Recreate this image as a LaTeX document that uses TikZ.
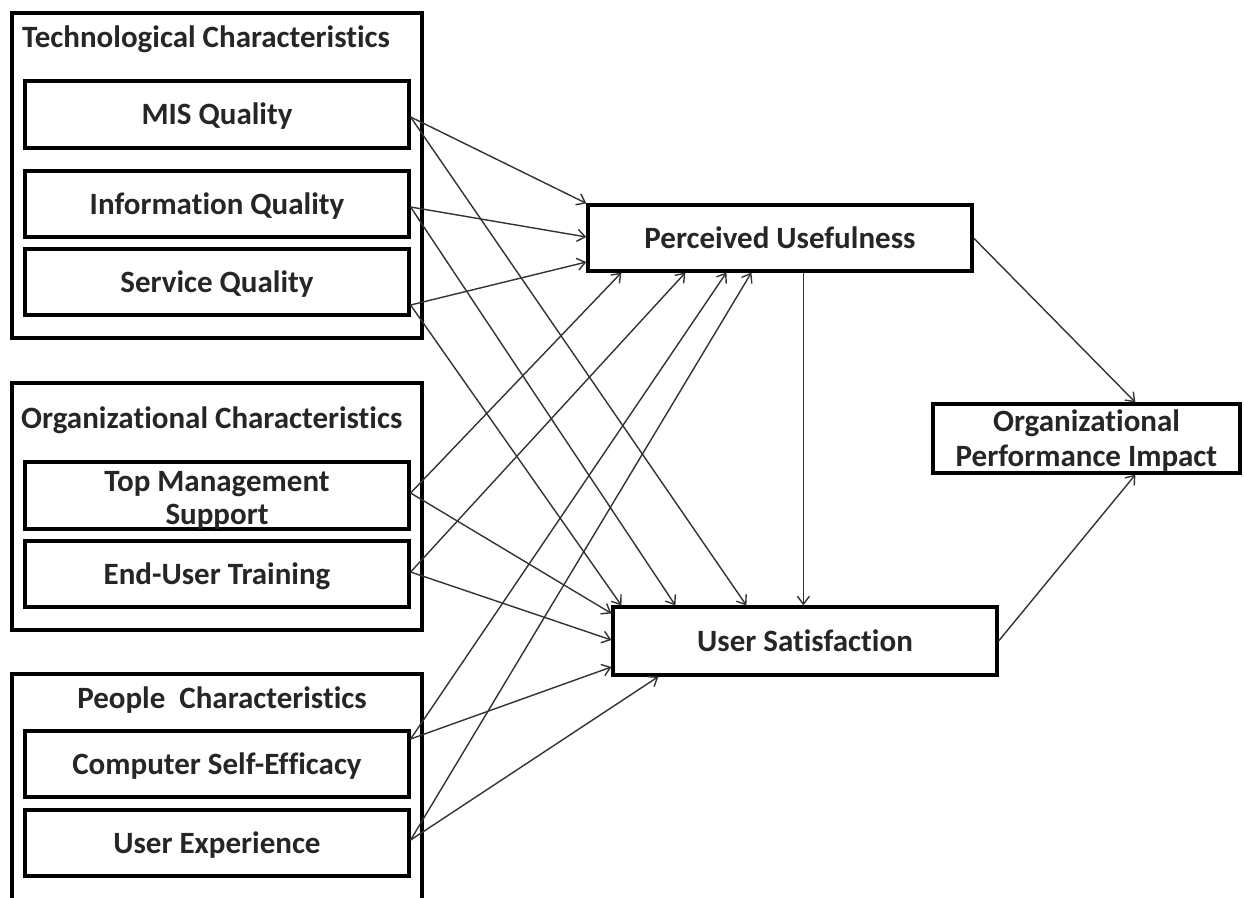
\documentclass[tikz,border=0pt]{standalone}
\usepackage{fontspec}
\setmainfont{Carlito}[RawFeature={-liga}]
\usetikzlibrary{arrows.meta,calc}
\begin{document}
\begin{tikzpicture}[x=1pt,y=-1pt,
  every node/.style={font=\fontsize{31}{33}\selectfont\bfseries, text=black!85},
  outerbox/.style={draw, line width=3.2pt, inner sep=0pt, minimum width=410pt},
  innerbox/.style={draw, line width=3.2pt, inner sep=0pt, minimum width=384pt, minimum height=66pt, align=center},
  mainbox/.style={draw, line width=3.2pt, inner sep=0pt, align=center},
  oneline/.style={text height=23pt, text depth=3pt},
  conn/.style={line width=1.4pt, draw=black!80, -{Straight Barb[length=8pt,width=12pt]}},
]
\useasboundingbox (0,0) rectangle (1244,897);
\clip (0,0) rectangle (1244,897);
\fill[white] (0,0) rectangle (1244,897);

% groups
\node[outerbox, minimum height=325pt] (tech) at (217,175.5) {};
\node[anchor=west, inner sep=0pt] (techt) at (22,39) {Technological Characteristics};
\node[outerbox, minimum height=247pt] (org) at (217,506.5) {};
\node[anchor=west, inner sep=0pt] (orgt) at (21,420) {Organizational Characteristics};
\node[outerbox, minimum height=250pt] (ppl) at (217,799) {};
\node[inner sep=0pt] (pplt) at (222,700) {People\ \ Characteristics};

% inner boxes
\node[innerbox, oneline, minimum height=67pt] (mis) at (217,114.5) {MIS Quality};
\node[innerbox, oneline] (info) at (217,204) {Information Quality};
\node[innerbox, oneline] (svc) at (217,282) {Service Quality};
\node[innerbox, minimum height=67pt, text height=45.5pt, text depth=20.5pt] (tm) at (217,495.5) {\begin{tabular}{@{}c@{}}Top Management\\Support\end{tabular}};
\node[innerbox, oneline] (eu) at (217,574) {End-User Training};
\node[innerbox, oneline] (cse) at (217,764) {Computer Self-Efficacy};
\node[innerbox, oneline] (ue) at (217,843) {User Experience};

% main boxes
\node[mainbox, oneline, minimum width=384pt, minimum height=66pt] (pu) at (780,238) {Perceived Usefulness};
\node[mainbox, oneline, minimum width=384pt, minimum height=68pt] (us) at (805,641) {User Satisfaction};
\node[mainbox, minimum width=307pt, minimum height=69pt, text height=44.5pt, text depth=23.5pt] (op) at (1086.5,438.5) {\begin{tabular}{@{}c@{}}Organizational\\[2pt]Performance Impact\end{tabular}};

% start points
\coordinate (misS) at ($(mis.east)+(0,2.5)$);
\coordinate (infoS) at ($(info.east)+(0,3)$);
\coordinate (svcS) at ($(svc.east)+(0,23)$);
\coordinate (tmS) at ($(tm.east)+(0,-2.5)$);
\coordinate (euS) at ($(eu.east)+(0,-2)$);
\coordinate (cseS) at ($(cse.east)+(0,-25)$);
\coordinate (ueS) at ($(ue.east)+(0,-3)$);

% to Perceived Usefulness
\draw[conn] (misS) -- (pu.north west);
\draw[conn] (infoS) -- ($(pu.west)+(0,-1)$);
\draw[conn] (svcS) -- ($(pu.west)+(0,24)$);
\draw[conn] (tmS) -- ($(pu.south west)+(35,0)$);
\draw[conn] (euS) -- ($(pu.south west)+(99,0)$);
\draw[conn] (cseS) -- ($(pu.south west)+(140,0)$);
\draw[conn] (ueS) -- ($(pu.south west)+(165,0)$);

% to User Satisfaction
\draw[conn] (misS) -- ($(us.north west)+(135,0)$);
\draw[conn] (infoS) -- ($(us.north west)+(64,0)$);
\draw[conn] (svcS) -- ($(us.north west)+(10,0)$);
\draw[conn] (tmS) -- ($(us.north west)+(0,8)$);
\draw[conn] (euS) -- ($(us.west)+(0,-1)$);
\draw[conn] (cseS) -- ($(us.west)+(0,26)$);
\draw[conn] (ueS) -- ($(us.south west)+(47,0)$);

\draw[conn] ($(pu.south west)+(217,0)$) -- ($(us.north west)+(192,0)$);

% to Organizational Performance Impact
\draw[conn] (pu.east) -- ($(op.north west)+(204,0)$);
\draw[conn] (us.east) -- ($(op.south west)+(204,0)$);
\end{tikzpicture}
\end{document}
